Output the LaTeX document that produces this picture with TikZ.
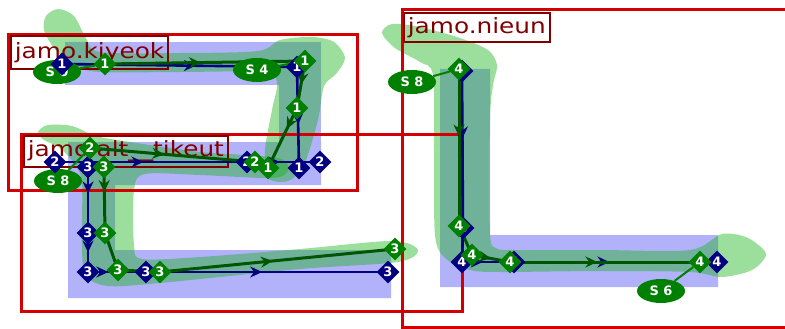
\documentclass[tikz,border=0pt]{standalone}
\usepackage{fontspec}
\setmainfont{DejaVu Sans}
\usetikzlibrary{shapes.geometric,arrows.meta,decorations.markings}
\definecolor{bluefill}{RGB}{178,178,250}
\definecolor{greenblob}{RGB}{20,180,20}
\definecolor{navyc}{RGB}{0,0,128}
\definecolor{dgreen}{RGB}{0,85,0}
\definecolor{mgreen}{RGB}{0,128,0}
\definecolor{boxred}{RGB}{210,0,0}
\definecolor{lblred}{RGB}{128,0,0}
\pgfdeclarelayer{zones}
\pgfdeclarelayer{lines}
\pgfsetlayers{zones,lines,main}
\begin{document}
\begin{tikzpicture}[x=1pt,y=-1pt,
  bluezone/.style={fill=bluefill, draw=none},
  greenzone/.style={fill=greenblob, fill opacity=0.42, draw=none},
  regionbox/.style={draw=boxred, line width=3pt},
  lbl/.style={draw=lblred, line width=1.6pt, text=lblred, font=\fontsize{21}{21}\selectfont, inner xsep=4pt, inner ysep=0pt, anchor=north west},
  nd/.style={diamond, fill=navyc, text=white, font=\bfseries\fontsize{13}{13}\selectfont, inner sep=0pt, minimum size=23pt},
  gd/.style={nd, fill=mgreen},
  sdot/.style={ellipse, fill=mgreen, text=white, font=\bfseries\fontsize{13}{13}\selectfont, minimum width=48pt, minimum height=24pt, inner sep=0pt},
  nline/.style={navyc, line width=2.6pt},
  gline/.style={dgreen, line width=3pt},
  slink/.style={mgreen, line width=2pt},
  arrowat/.style={postaction={decorate, decoration={markings, mark=at position #1 with {\arrow{Stealth[length=12pt,width=11pt,inset=4pt]}}}}},
]
\useasboundingbox (0,0) rectangle (785,329);
\clip (0,0) rectangle (785,329);

% ellipses
\node[sdot] (s0) at (57,72) {S 0};
\node[sdot] (s4) at (257,70) {S 4};
\node[sdot] (s8a) at (58,181) {S 8};
\node[sdot] (s8b) at (412,82) {S 8};
\node[sdot] (s6) at (661,291) {S 6};

% navy diamonds
\node[nd] (nk1) at (62,64) {1};
\node[nd] (nk2) at (297,67) {1};
\node[nd] (nk3) at (299,168) {1};
\node[nd] (nk4) at (320,162) {2};
\node[nd] (nt1) at (55,162) {2};
\node[nd] (nt2) at (247,162) {2};
\node[nd] (nt3) at (88,167) {3};
\node[nd] (nt4) at (88,233) {3};
\node[nd] (nt5) at (88,272) {3};
\node[nd] (nt6) at (146,272) {3};
\node[nd] (nt7) at (388,272) {3};
\node[nd] (nn1) at (462,71) {4};
\node[nd] (nn2) at (463,228) {4};
\node[nd] (nn3) at (462,262) {4};
\node[nd] (nn4) at (514,262) {4};
\node[nd] (nn5) at (717,262) {4};

% green diamonds
\node[gd] (gk1) at (105,64) {1};
\node[gd] (gk2) at (305,61) {1};
\node[gd] (gk3) at (297,108) {1};
\node[gd] (gk4) at (268,168) {1};
\node[gd] (gt1) at (90,148) {2};
\node[gd] (gt2) at (255,162) {2};
\node[gd] (gt3) at (104,167) {3};
\node[gd] (gt4) at (105,233) {3};
\node[gd] (gt5) at (118,270) {3};
\node[gd] (gt6) at (160,272) {3};
\node[gd] (gt7) at (395,249) {3};
\node[gd] (gn1) at (459,69) {4};
\node[gd] (gn2) at (459,226) {4};
\node[gd] (gn3) at (472,255) {4};
\node[gd] (gn4) at (510,262) {4};
\node[gd] (gn5) at (700,262) {4};

\begin{pgfonlayer}{zones}
\fill[white] (0,0) rectangle (785,329);
% blue zones
\fill[bluezone] (65,42) rectangle (321,85);
\fill[bluezone] (279,42) rectangle (321,185);
\fill[bluezone] (68,142) -- (321,142) -- (321,185) -- (115,185) -- (115,250) -- (391,250) -- (391,298) -- (68,298) -- cycle;
\fill[bluezone] (440,69) -- (490,69) -- (490,235) -- (718,235) -- (718,287) -- (440,287) -- cycle;
% green zones
\fill[greenzone] plot[smooth cycle, tension=0.5] coordinates {(46,16) (58,9) (74,16) (86,38) (100,52) (180,53) (258,51) (280,40) (312,37) (334,42) (345,58) (336,74) (324,86) (318,120) (304,165) (288,181) (268,178) (265,150) (272,110) (277,82) (262,72) (180,72) (100,72) (72,65) (54,48) (44,30)};
\fill[greenzone] plot[smooth cycle, tension=0.5] coordinates {(38,132) (48,125) (72,126) (96,136) (130,142) (200,152) (262,156) (284,160) (288,171) (272,178) (200,175) (145,174) (134,190) (134,245) (142,259) (200,257) (300,249) (392,241) (418,250) (398,262) (300,269) (160,283) (108,286) (86,276) (82,250) (82,185) (76,166) (60,148) (44,140)};
\fill[greenzone] plot[smooth cycle, tension=0.5] coordinates {(382,33) (392,24) (420,27) (460,38) (488,50) (497,65) (493,85) (490,120) (490,232) (496,248) (515,250) (600,250) (690,250) (722,234) (748,238) (766,254) (752,270) (722,277) (690,272) (600,271) (500,272) (470,270) (445,258) (435,235) (434,150) (433,75) (420,62) (395,48)};
% region boxes
\draw[regionbox] (8,35) rectangle (357,190);
\draw[regionbox] (21,134) rectangle (462,311);
\draw[regionbox] (402,10) rectangle (795,327);
% labels
\node[lbl, minimum height=33pt] (lk) at (10,35) {\scalebox{1.18}[1]{jamo.kiyeok}};
\node[lbl, minimum height=31pt] (lt) at (23,135) {\scalebox{1.18}[1]{jamo.alt\_\_tikeut}};
\node[lbl, minimum height=29pt] (ln) at (403,12) {\scalebox{1.18}[1]{jamo.nieun}};
\end{pgfonlayer}

\begin{pgfonlayer}{lines}
% navy contours
\draw[nline, arrowat=0.57] (nk1.center) -- (nk2.center);
\draw[nline, arrowat=0.57] (nk2.center) -- (nk3.center);
\draw[nline, arrowat=0.46] (nt1.center) -- (nt2.center);
\draw[nline, arrowat=0.45] (nt2.center) -- (nk4.center);
\draw[nline, arrowat=0.4] (nt3.center) -- (nt4.center);
\draw[nline, arrowat=0.5] (nt4.center) -- (nt5.center);
\draw[nline, arrowat=0.35] (nt5.center) -- (nt6.center);
\draw[nline, arrowat=0.48] (nt6.center) -- (nt7.center);
\draw[nline, arrowat=0.43] (nn1.center) -- (nn2.center);
\draw[nline] (nn2.center) -- (nn3.center);
\draw[nline, arrowat=0.4] (nn3.center) -- (nn4.center);
\draw[nline, arrowat=0.47] (nn4.center) -- (nn5.center);
% green contours
\draw[gline, arrowat=0.48] (gk1.center) -- (gk2.center);
\draw[gline, arrowat=0.5] (gk2.center) -- (gk3.center);
\draw[gline, arrowat=0.35] (gk3.center) -- (gk4.center);
\draw[gline, arrowat=0.45] (gt1.center) -- (gt2.center);
\draw[gline, arrowat=0.38] (gt3.center) -- (gt4.center);
\draw[gline] (gt4.center) -- (gt5.center);
\draw[gline] (gt5.center) -- (gt6.center);
\draw[gline, arrowat=0.48] (gt6.center) -- (gt7.center);
\draw[gline, arrowat=0.43] (gn1.center) -- (gn2.center);
\draw[gline] (gn2.center) -- (gn3.center);
\draw[gline, arrowat=0.5] (gn3.center) -- (gn4.center);
\draw[gline, arrowat=0.46] (gn4.center) -- (gn5.center);
% start links
\draw[slink] (s0) -- (gk1);
\draw[slink] (s4) -- (gk2);
\draw[slink] (s8a) -- (gt1);
\draw[slink] (s8b) -- (gn1);
\draw[slink] (s6) -- (gn5);
\end{pgfonlayer}
\end{tikzpicture}
\end{document}
